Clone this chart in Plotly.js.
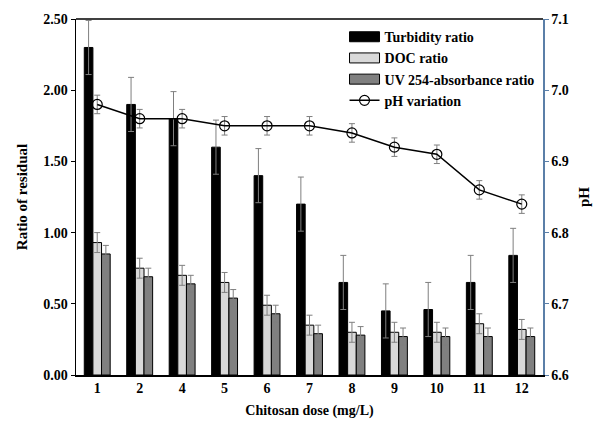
<!DOCTYPE html>
<html><head><meta charset="utf-8">
<script src="https://cdn.plot.ly/plotly-3.0.1.min.js"></script>
<style>html,body{margin:0;padding:0;background:#fff}#chart{width:600px;height:421px}</style>
</head><body><div id="chart"></div>
<script>
const doses = ['1','2','4','5','6','7','8','9','10','11','12'];
const turbidity = [2.30,1.90,1.80,1.60,1.40,1.20,0.65,0.45,0.46,0.65,0.84];
const turbidityErr = [0.19,0.19,0.19,0.19,0.19,0.19,0.19,0.19,0.19,0.19,0.19];
const doc = [0.93,0.75,0.70,0.65,0.49,0.35,0.30,0.30,0.30,0.36,0.32];
const docErr = [0.07,0.07,0.07,0.07,0.07,0.07,0.07,0.07,0.07,0.07,0.07];
const uv = [0.85,0.69,0.64,0.54,0.43,0.29,0.28,0.27,0.27,0.27,0.27];
const uvErr = [0.06,0.06,0.06,0.06,0.06,0.06,0.06,0.06,0.06,0.06,0.06];
const ph = [6.98,6.96,6.96,6.95,6.95,6.95,6.94,6.92,6.91,6.86,6.84];
const phErr = [0.013,0.013,0.013,0.013,0.013,0.013,0.013,0.013,0.013,0.013,0.013];

const F = 'Liberation Serif, Times New Roman, serif';
const errStyle = {type:'data', visible:true, color:'#7f7f7f', thickness:1, width:3};

const traces = [
  {type:'bar', name:'<b>Turbidity ratio</b>', x:doses, y:turbidity,
   marker:{color:'#000000', line:{color:'#000', width:1}},
   error_y:Object.assign({array:turbidityErr}, errStyle)},
  {type:'bar', name:'<b>DOC ratio</b>', x:doses, y:doc,
   marker:{color:'#d9d9d9', line:{color:'#000', width:1}},
   error_y:Object.assign({array:docErr}, errStyle)},
  {type:'bar', name:'<b>UV 254-absorbance ratio</b>', x:doses, y:uv,
   marker:{color:'#808080', line:{color:'#000', width:1}},
   error_y:Object.assign({array:uvErr}, errStyle)},
  {type:'scatter', mode:'lines+markers', name:'<b>pH variation</b>', x:doses, y:ph, yaxis:'y2',
   line:{color:'#000', width:1.5},
   marker:{symbol:'circle-open', size:10, color:'#000', line:{width:1.2}},
   error_y:Object.assign({array:phErr}, errStyle)}
];

const layout = {
  width:600, height:421,
  margin:{l:76, r:57, t:19, b:46},
  paper_bgcolor:'#fff', plot_bgcolor:'#fff',
  font:{family:F, size:14, color:'#000'},
  barmode:'group', bargap:0.39, bargroupgap:0,
  showlegend:true,
  legend:{x:0.575, y:0.994, xanchor:'left', yanchor:'top', bgcolor:'rgba(0,0,0,0)',
          font:{family:F, size:14, color:'#000'}, itemwidth:30, tracegroupgap:1},
  xaxis:{type:'category', range:[-0.5, 10.5], showline:true, linecolor:'#000', linewidth:1.5, mirror:false,
         ticks:'', showgrid:false, zeroline:false,
         tickfont:{family:F, size:14, color:'#000', weight:'bold'},
         title:{text:'<b>Chitosan dose (mg/L)</b>', font:{family:F, size:14, color:'#000'}, standoff:10}},
  yaxis:{range:[0,2.5], dtick:0.5, tickformat:'.2f', showline:true, linecolor:'#000', linewidth:1.5,
         ticks:'outside', ticklen:4, tickcolor:'#000', showgrid:false, zeroline:false,
         tickfont:{family:F, size:14, color:'#000', weight:'bold'},
         title:{text:'<b>Ratio of residual</b>', font:{family:F, size:15, color:'#000'}, standoff:12}},
  yaxis2:{overlaying:'y', side:'right', range:[6.6,7.1], dtick:0.1, tickformat:'.1f',
          showline:true, linecolor:'#5b7fa8', linewidth:1.5, ticks:'outside', ticklen:4, tickcolor:'#5b7fa8',
          showgrid:false, zeroline:false,
          tickfont:{family:F, size:14, color:'#000', weight:'bold'},
          title:{text:'<b>pH</b>', font:{family:F, size:15, color:'#000'}, standoff:10}},
  shapes:[{type:'line', xref:'paper', yref:'paper', x0:0, x1:1, y0:1, y1:1, line:{color:'#000', width:1.5}}]
};

Plotly.newPlot('chart', traces, layout, {displayModeBar:false, staticPlot:true}).then(function(gd){
  // widen bar legend swatches to look like the reference's long rectangles
  gd.querySelectorAll('.legend .traces .legendpoints path').forEach(function(p){
    const d = p.getAttribute('d') || '';
    if (/^M6,6H-6V-6H6Z$/.test(d)) p.setAttribute('d','M15,5H-15V-5H15Z');
  });
});
</script></body></html>
